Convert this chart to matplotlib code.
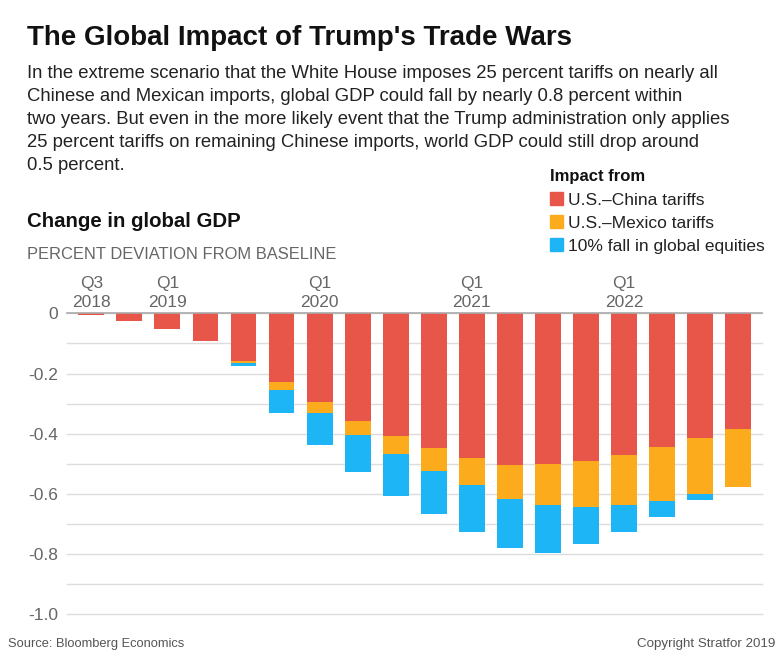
import matplotlib.pyplot as plt
import numpy as np

plt.rcParams['font.family'] = ['Liberation Sans', 'DejaVu Sans']

# quarters Q3 2018 .. Q4 2022
quarters = ['Q3 2018', 'Q4 2018', 'Q1 2019', 'Q2 2019', 'Q3 2019', 'Q4 2019',
            'Q1 2020', 'Q2 2020', 'Q3 2020', 'Q4 2020', 'Q1 2021', 'Q2 2021',
            'Q3 2021', 'Q4 2021', 'Q1 2022', 'Q2 2022', 'Q3 2022', 'Q4 2022']
china = [-0.005, -0.027, -0.053, -0.091, -0.158, -0.227, -0.296, -0.357, -0.407,
         -0.447, -0.481, -0.503, -0.501, -0.491, -0.471, -0.445, -0.415, -0.386]
mexico = [0, 0, 0, 0, -0.007, -0.027, -0.036, -0.048, -0.059,
          -0.076, -0.090, -0.115, -0.137, -0.151, -0.167, -0.177, -0.185, -0.190]
equities = [0, 0, 0, 0, -0.009, -0.076, -0.104, -0.122, -0.142,
            -0.145, -0.157, -0.163, -0.157, -0.123, -0.088, -0.055, -0.021, 0]
series_names = ['U.S.\u2013China tariffs', 'U.S.\u2013Mexico tariffs', '10% fall in global equities']
colors = ['#E8564A', '#FBAB1B', '#1EB5F7']

xlabels = {0: 'Q3\n2018', 2: 'Q1\n2019', 6: 'Q1\n2020', 10: 'Q1\n2021', 14: 'Q1\n2022'}
yticks = [0, -0.2, -0.4, -0.6, -0.8, -1.0]
ytick_labels = ['0', '-0.2', '-0.4', '-0.6', '-0.8', '-1.0']

W, H = 784, 664
fig = plt.figure(figsize=(W / 100, H / 100), dpi=100)


def px(x, y):
    return x / W, 1 - y / H


ax = fig.add_axes([66.7 / W, 1 - 614.3 / H, (761.7 - 66.7) / W, (614.3 - 313.3) / H])
x = np.arange(len(quarters))
china = np.array(china)
mexico = np.array(mexico)
equities = np.array(equities)
ax.bar(x, china, width=0.68, color=colors[0], zorder=3)
ax.bar(x, mexico, width=0.68, bottom=china, color=colors[1], zorder=3)
ax.bar(x, equities, width=0.68, bottom=china + mexico, color=colors[2], zorder=3)

ax.set_xlim(-0.647, 17.62)
ax.set_ylim(-1.0, 0)
for v in np.arange(-1.0, 0.01, 0.1):
    ax.axhline(v, color='#dcdcdc', lw=1, zorder=1, clip_on=False)
ax.axhline(0, color='#aaaaaa', lw=1.2, zorder=4, clip_on=False)
ax.set_yticks(yticks)
ax.set_yticklabels(ytick_labels, fontsize=12.5, color='#666666')
ax.tick_params(axis='y', length=0, pad=6)
ax.set_xticks([])
for s in ax.spines.values():
    s.set_visible(False)

# quarter / year labels above the zero line
for i, lab in xlabels.items():
    q, yr = lab.split('\n')
    ax.annotate(q, (i, 0), xytext=(0, 25), textcoords='offset pixels', ha='center',
                va='baseline', fontsize=12.5, color='#666666', annotation_clip=False)
    ax.annotate(yr, (i, 0), xytext=(0, 6), textcoords='offset pixels', ha='center',
                va='baseline', fontsize=12.5, color='#666666', annotation_clip=False)

# header texts
fig.text(*px(27, 45), "The Global Impact of Trump's Trade Wars", fontsize=20, fontweight='bold',
         color='#111111', va='baseline')
body = ["In the extreme scenario that the White House imposes 25 percent tariffs on nearly all",
        "Chinese and Mexican imports, global GDP could fall by nearly 0.8 percent within",
        "two years. But even in the more likely event that the Trump administration only applies",
        "25 percent tariffs on remaining Chinese imports, world GDP could still drop around",
        "0.5 percent."]
for k, line in enumerate(body):
    fig.text(*px(27, 78 + 23 * k), line, fontsize=13.3, color='#222222', va='baseline')

fig.text(*px(27, 227), 'Change in global GDP', fontsize=14.7, fontweight='bold', color='#111111', va='baseline')
fig.text(*px(27, 259), 'PERCENT DEVIATION FROM BASELINE', fontsize=11.9, color='#666666', va='baseline')

# legend
fig.text(*px(550, 181), 'Impact from', fontsize=12, fontweight='bold', color='#111111', va='baseline')
for k, (name, c) in enumerate(zip(series_names, colors)):
    yb = 205 + 23 * k
    fig.patches.append(plt.Rectangle(px(550, yb), 13 / W, 13 / H, color=c, transform=fig.transFigure))
    fig.text(*px(568, yb), name, fontsize=12.5, color='#222222', va='baseline')

fig.text(*px(8, 647), 'Source: Bloomberg Economics', fontsize=9.3, color='#555555', va='baseline')
fig.text(*px(775, 647), 'Copyright Stratfor 2019', fontsize=9.6, color='#555555', va='baseline', ha='right')

fig.savefig('out.png', dpi=100, facecolor='white')
